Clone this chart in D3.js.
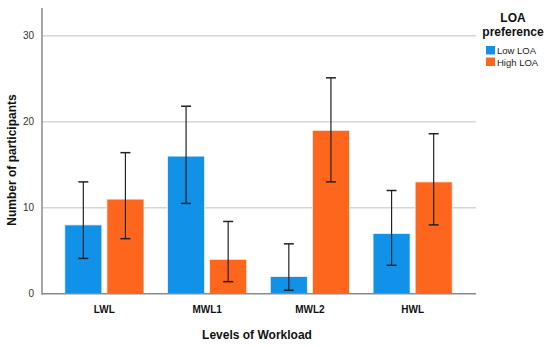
<!DOCTYPE html>
<html lang="en">
<head>
<meta charset="UTF-8">
<title>LOA preference by workload</title>
<script src="https://d3js.org/d3.v7.min.js"></script>
<style>
  body { margin: 0; background: #fff; }
  text { font-family: "Liberation Sans", Arial, sans-serif; }
</style>
</head>
<body>
<svg id="chart" width="550" height="347"></svg>
<script>
// data
const levels = ["LWL", "MWL1", "MWL2", "HWL"];
const groups = ["Low LOA", "High LOA"];
const lowCount  = [8, 16, 2, 7];
const highCount = [11, 4, 19, 13];
const lowErrLo  = [4.1, 10.5, 0.4, 3.3];
const lowErrHi  = [13.0, 21.8, 5.8, 12.0];
const highErrLo = [6.4, 1.4, 13.0, 8.0];
const highErrHi = [16.4, 8.4, 25.1, 18.6];
const yTicks = [0, 10, 20, 30];
const colors = ["#1192e8", "#fd661c"];

let rows = levels.map(function (l, i) {
    return [
        {level: l, group: groups[0], v: lowCount[i], lo: lowErrLo[i], hi: lowErrHi[i]},
        {level: l, group: groups[1], v: highCount[i], lo: highErrLo[i], hi: highErrHi[i]}
    ];
}).flat();

let svg = d3.select("#chart");
let plotL = 42, plotR = 476, plotT = 8, plotB = 293.7;

let y = d3.scaleLinear().domain([0, 33]).range([plotB, plotB - 33 * 8.6]);
let x0 = d3.scaleBand().domain(levels).range([53, 464]);
let x1 = d3.scaleBand().domain(groups)
    .range([11.8, x0.bandwidth() - 11.8]).paddingInner(0.12);
let color = d3.scaleOrdinal().domain(groups).range(colors);

// grid lines
svg.append("g").selectAll("line")
    .data(yTicks.filter(d => d > 0))
    .join("line")
    .attr("x1", plotL).attr("x2", plotR)
    .attr("y1", d => y(d)).attr("y2", d => y(d))
    .attr("stroke", "#d6d6d6").attr("stroke-width", 1.5);

// y axis
let yAxis = svg.append("g")
    .attr("transform", "translate(" + plotL + ",0)")
    .call(d3.axisLeft(y).tickValues(yTicks).tickSize(0).tickPadding(8));
yAxis.select(".domain").remove();
yAxis.selectAll("text").attr("font-size", 10).attr("fill", "#333")
    .style("font-family", "Liberation Sans, Arial, sans-serif");

// bars
svg.append("g").selectAll("rect")
    .data(rows)
    .join("rect")
    .attr("x", d => x0(d.level) + x1(d.group))
    .attr("y", d => y(d.v))
    .attr("width", x1.bandwidth())
    .attr("height", d => y(0) - y(d.v))
    .attr("fill", d => color(d.group))
    .attr("stroke", "#f3f3f3").attr("stroke-width", 0.8);

// axis lines
svg.append("line").attr("x1", plotL).attr("x2", plotL)
    .attr("y1", plotT).attr("y2", plotB + 1)
    .attr("stroke", "#8a8a8a").attr("stroke-width", 1.5);
svg.append("line").attr("x1", plotL).attr("x2", plotR)
    .attr("y1", plotB).attr("y2", plotB)
    .attr("stroke", "#8a8a8a").attr("stroke-width", 1.5);

// error bars
let eb = svg.append("g").selectAll("g")
    .data(rows)
    .join("g")
    .attr("transform", d => "translate(" + (x0(d.level) + x1(d.group) + x1.bandwidth() / 2) + ",0)");
eb.append("line").attr("y1", d => y(d.lo)).attr("y2", d => y(d.hi))
    .attr("stroke", "#222").attr("stroke-width", 1.2);
eb.append("line").attr("x1", -5).attr("x2", 5)
    .attr("y1", d => y(d.hi)).attr("y2", d => y(d.hi))
    .attr("stroke", "#222").attr("stroke-width", 1.5);
eb.append("line").attr("x1", -5).attr("x2", 5)
    .attr("y1", d => y(d.lo)).attr("y2", d => y(d.lo))
    .attr("stroke", "#222").attr("stroke-width", 1.5);

// category labels
svg.append("g").selectAll("text")
    .data(levels)
    .join("text")
    .attr("x", d => x0(d) + x0.bandwidth() / 2)
    .attr("y", 313)
    .attr("text-anchor", "middle")
    .attr("font-size", 10).attr("font-weight", "bold").attr("fill", "#111")
    .text(d => d);

// axis titles
svg.append("text")
    .attr("x", 257).attr("y", 339)
    .attr("text-anchor", "middle")
    .attr("font-size", 12).attr("font-weight", "bold").attr("fill", "#111")
    .text("Levels of Workload");
svg.append("text")
    .attr("transform", "translate(16,160) rotate(-90)")
    .attr("text-anchor", "middle")
    .attr("font-size", 12).attr("font-weight", "bold").attr("fill", "#111")
    .text("Number of participants");

// legend
svg.append("text").attr("x", 513).attr("y", 22)
    .attr("text-anchor", "middle").attr("font-size", 12).attr("font-weight", "bold")
    .attr("fill", "#111").text("LOA");
svg.append("text").attr("x", 513).attr("y", 36)
    .attr("text-anchor", "middle").attr("font-size", 12).attr("font-weight", "bold")
    .attr("fill", "#111").text("preference");
let lg = svg.append("g").selectAll("g")
    .data(groups)
    .join("g")
    .attr("transform", (d, i) => "translate(486," + (46 + i * 11.5) + ")");
lg.append("rect").attr("width", 9).attr("height", 8.5).attr("fill", d => color(d));
lg.append("text").attr("x", 11).attr("y", 8)
    .attr("font-size", 9.5).attr("fill", "#222").text(d => d);
</script>
</body>
</html>
